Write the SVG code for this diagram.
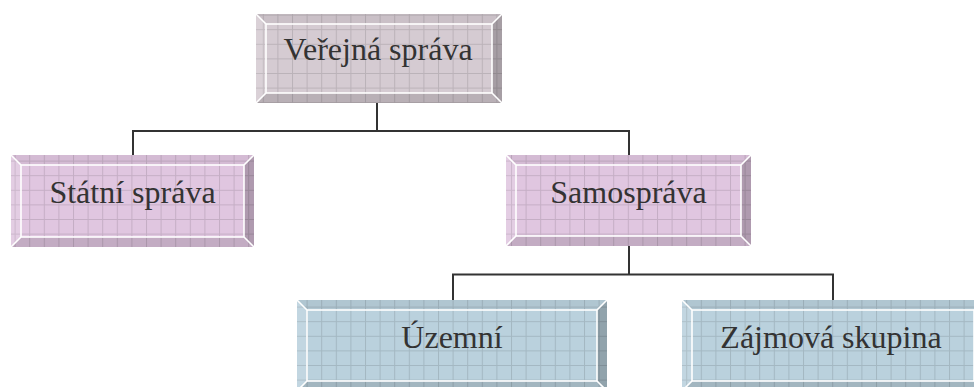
<svg xmlns="http://www.w3.org/2000/svg" width="974" height="387" viewBox="0 0 974 387">
<defs>
<pattern id="grid" width="14.6" height="14.6" patternUnits="userSpaceOnUse">
<path d="M0 0.5 H14.6 M0.5 0 V14.6" fill="none" stroke="#000" stroke-opacity="0.12" stroke-width="1"/>
</pattern>
<style>
.lbl{font-family:"Liberation Serif","Times New Roman",serif;font-size:32px;fill:#333;text-anchor:middle}
.grid{fill:url(#grid)}
.bt{fill:#000;fill-opacity:0.05}
.bl{fill:#fff;fill-opacity:0.12}
.br{fill:#000;fill-opacity:0.22}
.bb{fill:#000;fill-opacity:0.13}
.hl{fill:none;stroke:#fff;stroke-width:1.6}
.conn{fill:none;stroke:#333;stroke-width:2}
</style>
</defs>
<g id="connectors">
<path class="conn" d="M377 103 V131 M133 155 V131 H629 V155"/>
<path class="conn" d="M629 246 V274.5 M453 300 V274.5 H833 V300"/>
</g>
<g id="n-verejna">
<rect x="256" y="14" width="246" height="89" fill="#d5cbd2"/>
<rect x="256" y="14" width="246" height="89" class="grid"/>
<polygon class="bt" points="256,14 502,14 492,24 266,24"/>
<polygon class="bl" points="256,14 266,24 266,93 256,103"/>
<polygon class="br" points="502,14 502,103 492,93 492,24"/>
<polygon class="bb" points="256,103 502,103 492,93 266,93"/>
<rect class="hl" x="266" y="24" width="226" height="69"/>
<path class="hl" d="M256 14 L266 24 M502 14 L492 24 M256 103 L266 93 M502 103 L492 93"/>
<text class="lbl" x="378" y="60">Veřejná správa</text>
</g>
<g id="n-statni">
<rect x="11" y="155" width="243" height="92" fill="#e0c6e0"/>
<rect x="11" y="155" width="243" height="92" class="grid"/>
<polygon class="bt" points="11,155 254,155 244,165 21,165"/>
<polygon class="bl" points="11,155 21,165 21,237 11,247"/>
<polygon class="br" points="254,155 254,247 244,237 244,165"/>
<polygon class="bb" points="11,247 254,247 244,237 21,237"/>
<rect class="hl" x="21" y="165" width="223" height="72"/>
<path class="hl" d="M11 155 L21 165 M254 155 L244 165 M11 247 L21 237 M254 247 L244 237"/>
<text class="lbl" x="132.5" y="203">Státní správa</text>
</g>
<g id="n-samosprava">
<rect x="506" y="155" width="245" height="91" fill="#e0c6e0"/>
<rect x="506" y="155" width="245" height="91" class="grid"/>
<polygon class="bt" points="506,155 751,155 741,165 516,165"/>
<polygon class="bl" points="506,155 516,165 516,236 506,246"/>
<polygon class="br" points="751,155 751,246 741,236 741,165"/>
<polygon class="bb" points="506,246 751,246 741,236 516,236"/>
<rect class="hl" x="516" y="165" width="225" height="71"/>
<path class="hl" d="M506 155 L516 165 M751 155 L741 165 M506 246 L516 236 M751 246 L741 236"/>
<text class="lbl" x="628.5" y="203">Samospráva</text>
</g>
<g id="n-uzemni">
<rect x="297" y="300" width="310" height="91" fill="#bad1dd"/>
<rect x="297" y="300" width="310" height="91" class="grid"/>
<polygon class="bt" points="297,300 607,300 597,310 307,310"/>
<polygon class="bl" points="297,300 307,310 307,381 297,391"/>
<polygon class="br" points="607,300 607,391 597,381 597,310"/>
<polygon class="bb" points="297,391 607,391 597,381 307,381"/>
<rect class="hl" x="307" y="310" width="290" height="71"/>
<path class="hl" d="M297 300 L307 310 M607 300 L597 310 M297 391 L307 381 M607 391 L597 381"/>
<text class="lbl" x="452" y="348">Územní</text>
</g>
<g id="n-zajmova">
<rect x="682" y="300" width="302" height="91" fill="#bad1dd"/>
<rect x="682" y="300" width="302" height="91" class="grid"/>
<polygon class="bt" points="682,300 984,300 974,310 692,310"/>
<polygon class="bl" points="682,300 692,310 692,381 682,391"/>
<polygon class="br" points="984,300 984,391 974,381 974,310"/>
<polygon class="bb" points="682,391 984,391 974,381 692,381"/>
<rect class="hl" x="692" y="310" width="282" height="71"/>
<path class="hl" d="M682 300 L692 310 M984 300 L974 310 M682 391 L692 381 M984 391 L974 381"/>
<text class="lbl" x="831" y="348">Zájmová skupina</text>
</g>
</svg>
